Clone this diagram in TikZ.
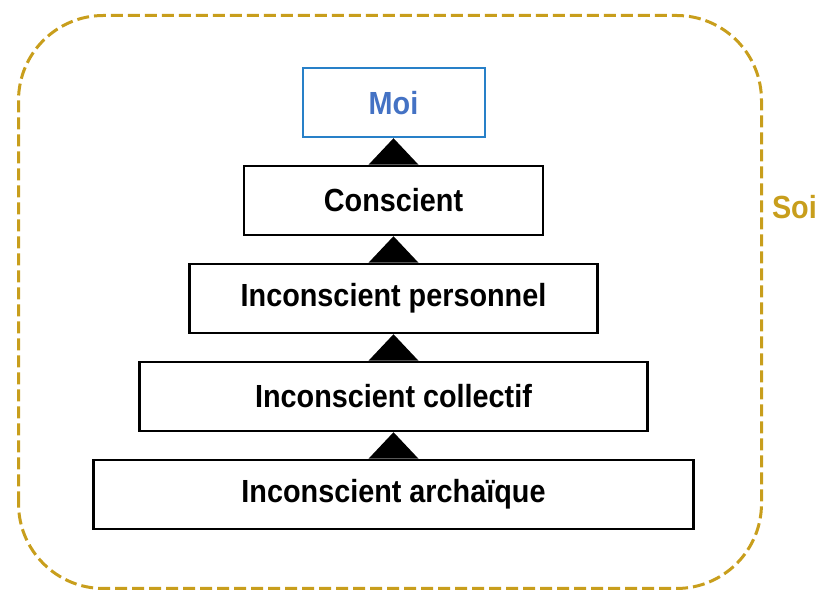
\documentclass[tikz,border=0pt]{standalone}
\usepackage{fontspec}
\setmainfont{Liberation Sans}[FakeStretch=0.9]
\usetikzlibrary{positioning}
\definecolor{soigold}{RGB}{200,158,28}
\definecolor{moiblue}{RGB}{40,128,200}
\definecolor{moitext}{RGB}{68,114,196}
\tikzset{
  level/.style={draw, line width=2.5pt, minimum height=69pt, inner sep=0pt,
    font=\fontsize{32}{38}\selectfont\bfseries},
  moibox/.style={level, draw=moiblue, line width=2pt, text=moitext}
}
\begin{document}
\begin{tikzpicture}[x=1pt,y=1pt]
\useasboundingbox (0,0) rectangle (819,593);

\draw[color=soigold, line width=3pt, dash pattern=on 12pt off 5pt, rounded corners=85pt]
  (18.5,4.5) rectangle (761.5,577.5);
\node[anchor=east, inner sep=0pt, text=soigold, font=\fontsize{32}{38}\selectfont\bfseries] (soi) at (817,386) {Soi};

\node[level, minimum width=600pt] (arch) at (393.5,98.5) {Inconscient archaïque};
\node[level, minimum width=508pt, above=26.5pt of arch] (coll) {Inconscient collectif};
\node[level, minimum width=408pt, above=26.5pt of coll] (pers) {Inconscient personnel};
\node[level, minimum width=299pt, above=26.5pt of pers] (consc) {Conscient};
\node[moibox, minimum width=182pt, above=26.5pt of consc] (moi) {Moi};

\foreach \a/\b in {arch/coll,coll/pers,pers/consc,consc/moi}
\fill ([xshift=-25pt]\a.north) -- (\b.south) -- ([xshift=25pt]\a.north) -- cycle;
\end{tikzpicture}
\end{document}
